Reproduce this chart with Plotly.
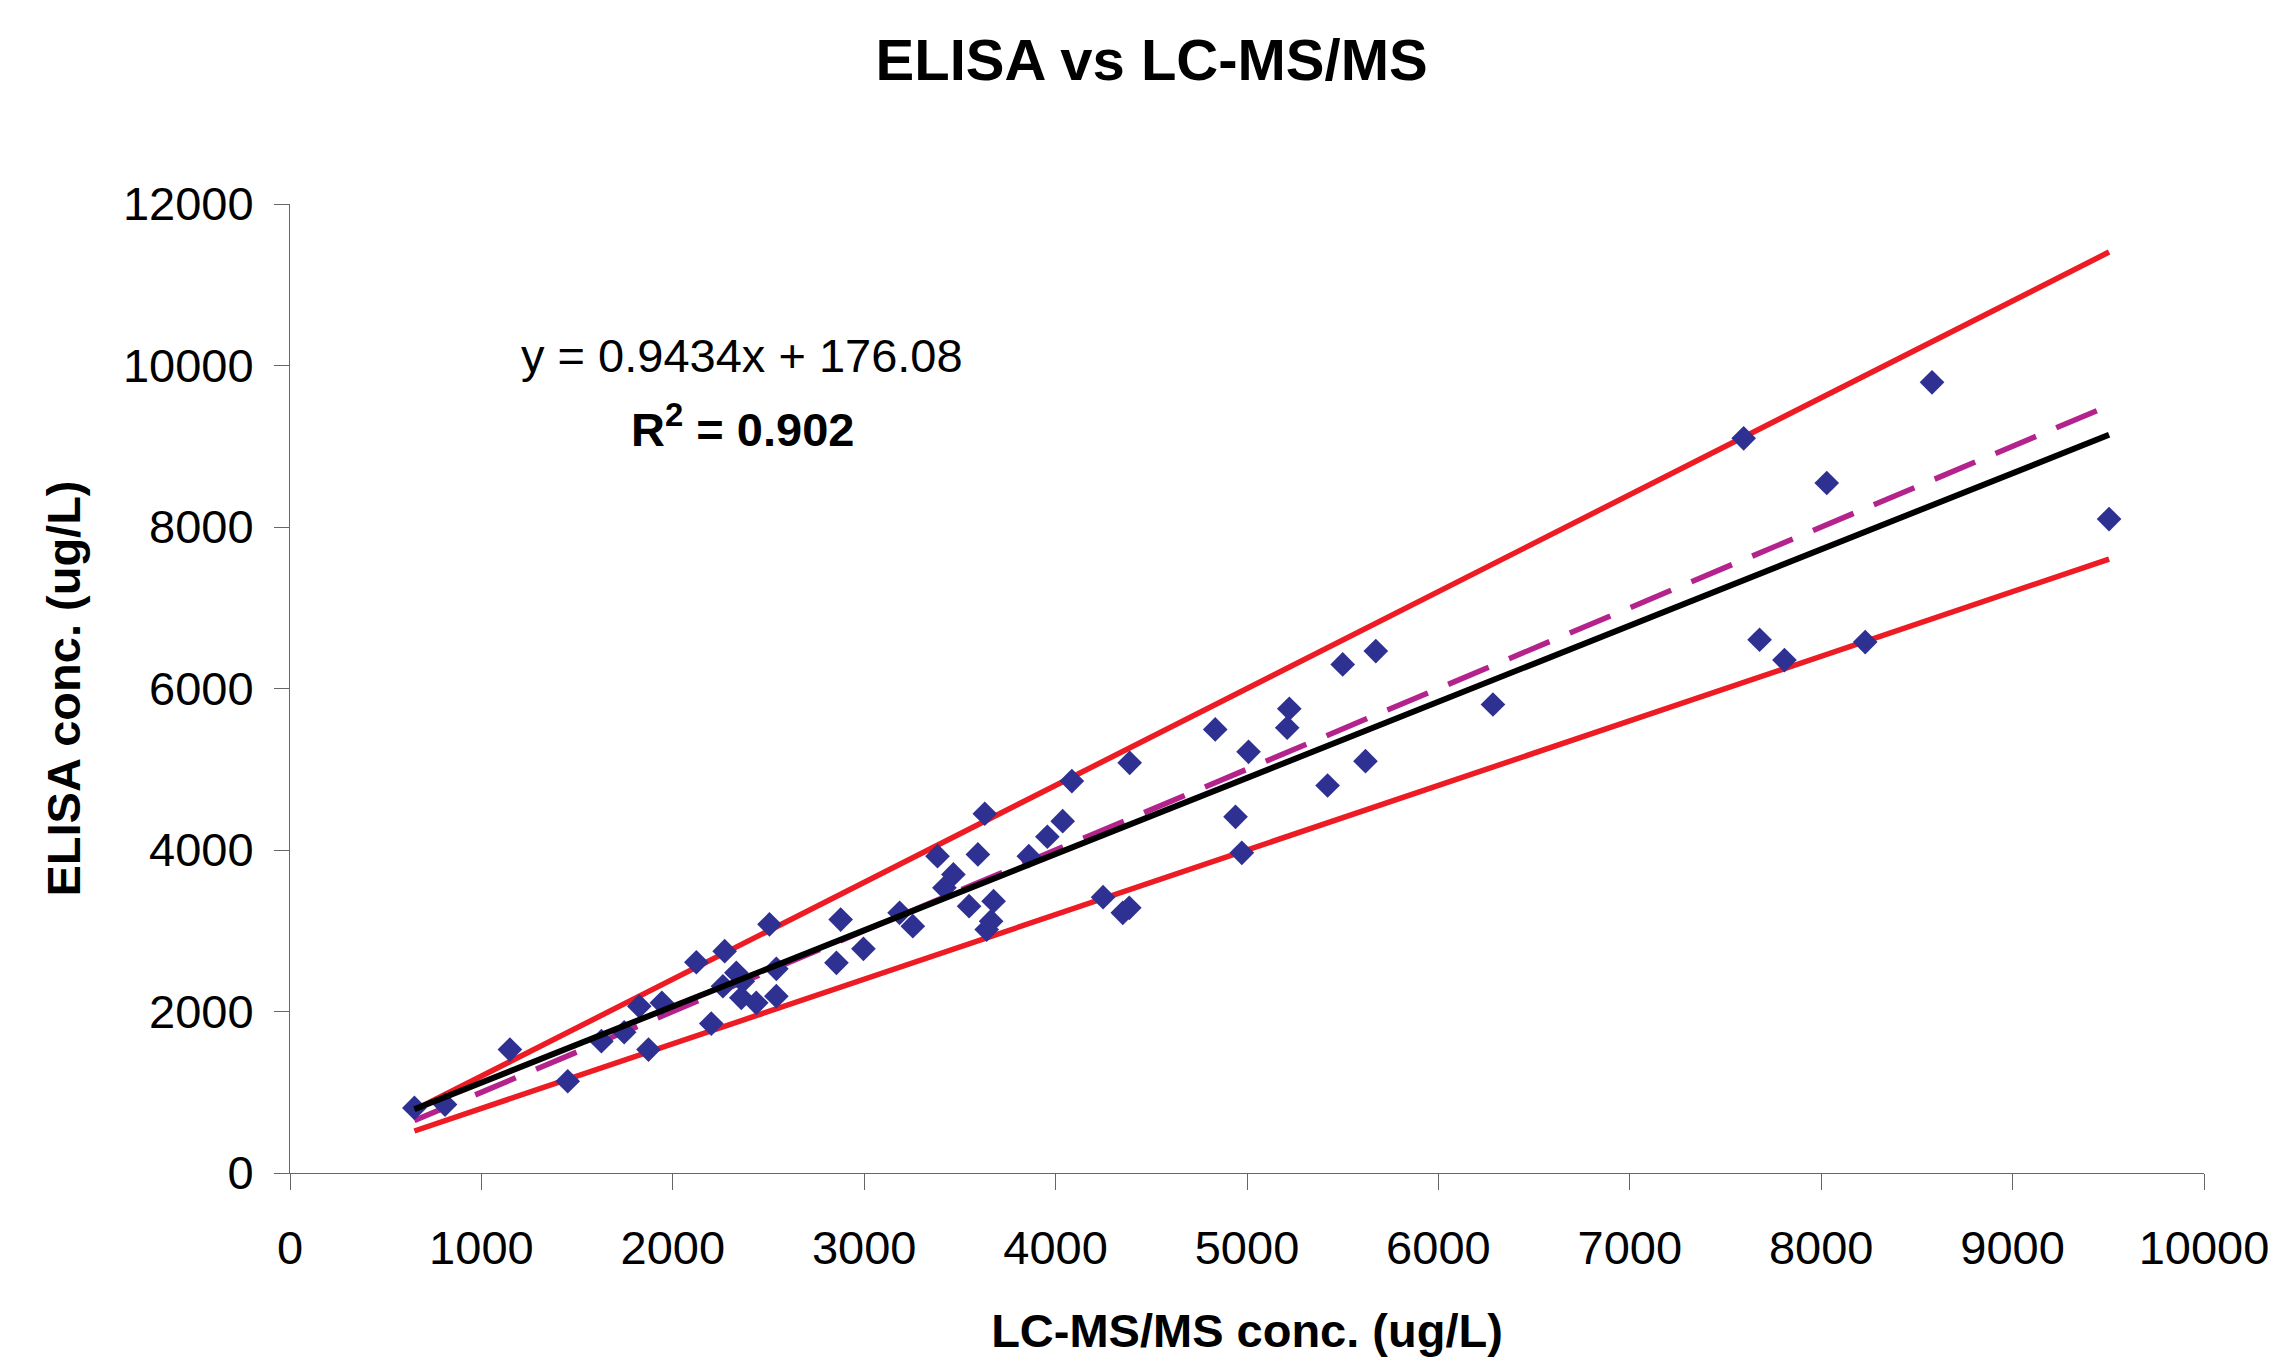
import plotly.graph_objects as go

# ---- data ----
lcms_x = [650, 810, 1149, 1451, 1627, 1746, 1825, 1873, 1943, 2123,
          2201, 2271, 2262, 2332, 2366, 2358, 2436, 2505, 2541, 2541,
          2855, 2877, 2996, 3185, 3254, 3383, 3419, 3466, 3548, 3594,
          3630, 3640, 3663, 3676, 3860, 3957, 4037, 4085, 4248, 4351,
          4385, 4387, 4834, 4940, 4973, 5008, 5210, 5221, 5421, 5500,
          5619, 5673, 6285, 7595, 7678, 7808, 8029, 8230, 8579, 9504]
elisa_y = [806, 847, 1529, 1136, 1632, 1743, 2065, 1529, 2107, 2610,
           1850, 2747, 2313, 2479, 2375, 2169, 2107, 3080, 2529, 2190,
           2603, 3139, 2776, 3222, 3057, 3924, 3532, 3697, 3304, 3945,
           4449, 3015, 3118, 3366, 3924, 4164, 4357, 4853, 3416, 3222,
           3284, 5080, 5493, 4411, 3965, 5216, 5514, 5749, 4799, 6298,
           5100, 6463, 5802, 9098, 6604, 6352, 8545, 6575, 9792, 8098]

line_x = [650, 9504]
trend_y = [789, 9142]       # y = 0.9434x + 176.08
identity_y = [650, 9504]    # y = x
upper_y = [780, 11405]      # +20 %
lower_y = [520, 7603]       # -20 %

x_ticks = [0, 1000, 2000, 3000, 4000, 5000, 6000, 7000, 8000, 9000, 10000]
x_labels = [str(v) for v in x_ticks]
y_ticks = [0, 2000, 4000, 6000, 8000, 10000, 12000]
y_labels = [str(v) for v in y_ticks]

FONT = "Liberation Sans, Arial, sans-serif"
RED = "#ED1C24"
MAGENTA = "#B4228C"
NAVY = "#2E3192"

W, H = 2269, 1349

fig = go.Figure()
fig.add_trace(go.Scatter(x=line_x, y=upper_y, mode="lines",
                         line=dict(color=RED, width=5.5), hoverinfo="skip"))
fig.add_trace(go.Scatter(x=line_x, y=lower_y, mode="lines",
                         line=dict(color=RED, width=5.5), hoverinfo="skip"))
fig.add_trace(go.Scatter(x=line_x, y=identity_y, mode="lines",
                         line=dict(color=MAGENTA, width=5.5, dash="44px,22px"),
                         hoverinfo="skip"))
fig.add_trace(go.Scatter(x=lcms_x, y=elisa_y, mode="markers",
                         marker=dict(symbol="diamond", size=19, color=NAVY,
                                     line=dict(width=0))))
fig.add_trace(go.Scatter(x=line_x, y=trend_y, mode="lines",
                         line=dict(color="black", width=6), hoverinfo="skip"))

fig.add_annotation(x=2363, y=10118, xref="x", yref="y",
                   text="y = 0.9434x + 176.08", showarrow=False,
                   xanchor="center", yanchor="middle",
                   font=dict(family=FONT, size=47, color="black"))
fig.add_annotation(x=2363, y=9247, xref="x", yref="y",
                   text="<b>R<sup>2</sup> = 0.902</b>", showarrow=False,
                   xanchor="center", yanchor="middle",
                   font=dict(family=FONT, size=47, color="black"))

axis_common = dict(
    showgrid=False, zeroline=False, showline=True, automargin=False,
    linecolor="#666666", linewidth=1,
    ticks="outside", tickcolor="#666666", tickwidth=1,
    tickmode="array",
    tickfont=dict(family=FONT, size=47, color="black"),
)

fig.update_layout(
    width=W, height=H,
    margin=dict(l=282.4, r=W - 2196.4, t=196, b=H - 1165.3, autoexpand=False),
    paper_bgcolor="white", plot_bgcolor="white",
    showlegend=False,
    title=dict(text="<b>ELISA vs LC-MS/MS</b>", x=1143.6 / W, xanchor="center",
               y=1 - 52 / H, yanchor="middle", yref="container",
               font=dict(family=FONT, size=58, color="black")),
    xaxis=dict(range=[0, 10000], tickvals=x_ticks, ticktext=x_labels,
               ticklen=16, ticklabelstandoff=18,
               title=dict(text="<b>LC-MS/MS conc. (ug/L)</b>", standoff=43,
                          font=dict(family=FONT, size=47, color="black")),
               **axis_common),
    yaxis=dict(range=[0, 12000], tickvals=y_ticks, ticktext=y_labels,
               ticklen=15, ticklabelstandoff=11,
               title=dict(text="<b>ELISA conc. (ug/L)</b>", standoff=27,
                          font=dict(family=FONT, size=47, color="black")),
               **axis_common),
)

fig.write_html("out.html")
